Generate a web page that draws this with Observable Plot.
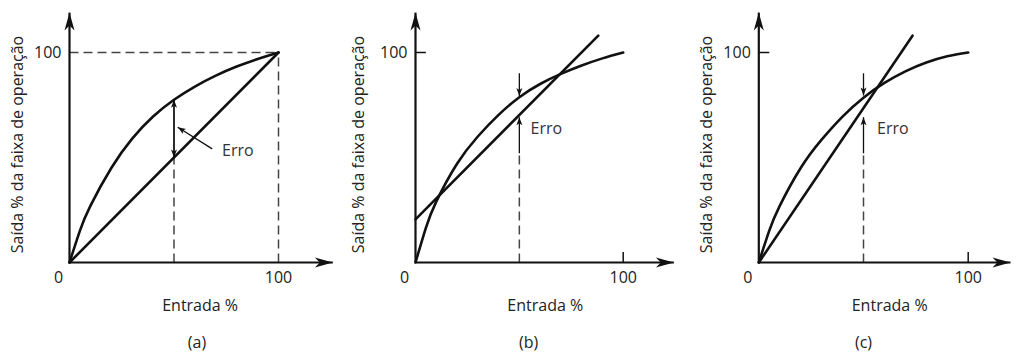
<!DOCTYPE html>
<html><head><meta charset="utf-8">
<script src="https://cdn.jsdelivr.net/npm/d3@7"></script>
<script src="https://cdn.jsdelivr.net/npm/@observablehq/plot@0.6"></script>
<style>
body{margin:0;background:#fff;}
#row{display:flex;width:1016px;height:353px;overflow:hidden;}
#row svg{display:block;flex:none;}
</style></head><body><div id="row"></div>
<script>
// ---- data ----
const panelLabels = ["(a)", "(b)", "(c)"];
const xTitle = "Entrada %";
const yTitle = "Saída % da faixa de operação";
const errLabel = "Erro";
const tickLabels = ["0", "100"];

// nonlinear response curves [input %, output %]
const curveA = [[0,0],[5,15.2],[10,27],[20,45],[30,59],[40,69.5],[50,77.5],[60,83.8],[70,89],[80,93.3],[90,96.9],[100,100]];
const curveB = [[0,0],[5,16.5],[10,29],[20,47],[30,60],[40,70.3],[50,78.7],[60,85],[70,89.8],[80,93.8],[90,97.2],[100,100]];
const curveC = [[0,0],[5,15.2],[10,27],[20,45],[30,58.5],[40,69.5],[50,78.5],[60,85.5],[70,91],[80,95.2],[90,98.2],[100,100]];
// straight-line approximations
const lineA = [[0,0],[100,100]];
const lineB = [[0,20.5],[88,108]];
const lineC = [[0,0],[73.4,108]];
// error marker values at input 50 %: [curve value, line value]
const errA = [77.5, 50];
const errB = [79.3, 69.2];
const errC = [79.5, 69.2];

// ---- layout / style ----
const H = 353, Y0PX = 262, Y100PX = 52;
const INK = "#111", TXT = "#222", DASH = "#444";
const FS = 16;
const FONT = "'Open Sans', 'Noto Sans', sans-serif";
const head = (L, W, N) => ({draw(ctx){ctx.moveTo(0,0);ctx.lineTo(W/2,L);ctx.lineTo(0,N);ctx.lineTo(-W/2,L);ctx.closePath();}});
const bigHead = head(18, 10, 13);
const smallHead = head(8, 6, 6);

const panels = [
  {label: panelLabels[0], w: 339, x0: 69, x100: 278, xEnd: 126, yEnd: 119, curve: curveA, line: lineA, err: errA, kind: "a",
   yTitleX: -24.9, labelX: 61, errText: [73, 53], pointer: {x1: 68.3, y1: 54.1, x2: 51.8, y2: 64.4}},
  {label: panelLabels[1], w: 339, x0: 76, x100: 283.7, xEnd: 124.4, yEnd: 119, curve: curveB, line: lineB, err: errB, kind: "b",
   yTitleX: -27.3, labelX: 54.5, errText: [55.4, 63.7]},
  {label: panelLabels[2], w: 338, x0: 80.3, x100: 289.7, xEnd: 120.2, yEnd: 119, curve: curveC, line: lineC, err: errC, kind: "c",
   yTitleX: -25, labelX: 50, errText: [56.5, 63.7]}
];

function makePanel(p) {
  const sx = (p.x100 - p.x0) / 100, sy = (Y0PX - Y100PX) / 100;
  const rot = (a) => Math.atan2((a.x2 - a.x1) * sx, (a.y2 - a.y1) * sy) * 180 / Math.PI;
  const axisArrows = [{x1: 0, y1: 0, x2: p.xEnd, y2: 0}, {x1: 0, y1: 0, x2: 0, y2: p.yEnd}];
  const errArrows = [];
  const dashed = [];
  if (p.kind === "a") {
    errArrows.push({x1: 50, y1: p.err[1], x2: 50, y2: p.err[0]}, {x1: 50, y1: p.err[0], x2: 50, y2: p.err[1]});
    errArrows.push(p.pointer);
    dashed.push({x1: 0, y1: 100, x2: 100, y2: 100}, {x1: 100, y1: 0, x2: 100, y2: 100}, {x1: 50, y1: 0, x2: 50, y2: p.err[1]});
  } else {
    errArrows.push({x1: 50, y1: 90.1, x2: 50, y2: p.err[0]}, {x1: 50, y1: 52, x2: 50, y2: p.err[1]});
    dashed.push({x1: 50, y1: 0, x2: 50, y2: 52});
  }
  const heads = (arr) => arr.map(a => ({x: a.x2, y: a.y2, r: rot(a)}));
  const marks = [
    Plot.link(dashed, {x1: "x1", y1: "y1", x2: "x2", y2: "y2", stroke: DASH, strokeWidth: 1.5, strokeDasharray: "9,5"}),
    Plot.line(p.curve, {x: d => d[0], y: d => d[1], curve: "natural", stroke: INK, strokeWidth: 2.6}),
    Plot.line(p.line, {x: d => d[0], y: d => d[1], stroke: INK, strokeWidth: 2.6}),
    Plot.link(axisArrows, {x1: "x1", y1: "y1", x2: "x2", y2: "y2", stroke: INK, strokeWidth: 2.2}),
    Plot.dot(heads(axisArrows), {x: "x", y: "y", rotate: "r", symbol: bigHead, fill: INK, stroke: "none"}),
    Plot.link(errArrows, {x1: "x1", y1: "y1", x2: "x2", y2: "y2", stroke: INK, strokeWidth: 1.3}),
    Plot.dot(heads(errArrows), {x: "x", y: "y", rotate: "r", symbol: smallHead, fill: INK, stroke: "none"}),
    Plot.text([errLabel], {x: p.errText[0], y: p.errText[1], text: d => d, textAnchor: "start", fill: "#333", fontSize: FS}),
    // tick labels
    Plot.text([tickLabels[0]], {x: 0, y: 0, text: d => d, dx: -11, dy: 15, fill: TXT, fontSize: FS}),
    Plot.text([tickLabels[1]], {x: 100, y: 0, text: d => d, dy: 15, fill: TXT, fontSize: FS}),
    Plot.text([tickLabels[1]], {x: 0, y: 100, text: d => d, dx: -8, textAnchor: "end", fill: TXT, fontSize: FS}),
    // titles
    Plot.text([xTitle], {x: 62.5, y: -20.5, text: d => d, fill: TXT, fontSize: FS}),
    Plot.text([yTitle], {x: p.yTitleX, y: 56.2, text: d => d, rotate: -90, fill: TXT, fontSize: FS}),
    Plot.text([p.label], {x: p.labelX, y: -38.1, text: d => d, fill: TXT, fontSize: FS})
  ];
  if (p.kind !== "a") {
    marks.push(Plot.link([{x1: 0, y1: 100, x2: 5, y2: 100}, {x1: 100, y1: 0, x2: 100, y2: 5}],
      {x1: "x1", y1: "y1", x2: "x2", y2: "y2", stroke: INK, strokeWidth: 1.5}));
  }
  return Plot.plot({
    width: p.w, height: H,
    marginTop: 0, marginRight: 0, marginBottom: 0, marginLeft: 0,
    x: {domain: [0, 100], range: [p.x0, p.x100], axis: null},
    y: {domain: [0, 100], range: [Y0PX, Y100PX], axis: null},
    style: {fontFamily: FONT, fontSize: FS + "px", overflow: "visible", background: "#fff"},
    marks
  });
}

const row = document.getElementById("row");
panels.forEach(p => row.appendChild(makePanel(p)));
</script>
</body></html>
